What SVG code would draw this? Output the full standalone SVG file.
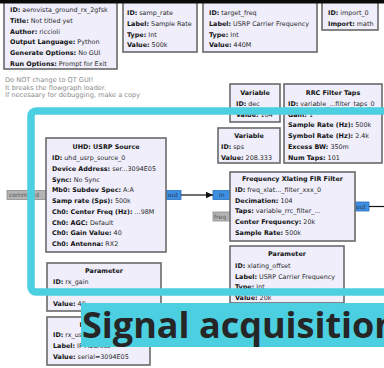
<svg xmlns="http://www.w3.org/2000/svg" width="384" height="368" viewBox="0 0 384 368">
  <defs>
    <style>
      .blk { fill: #efeefa; stroke: #6a6a6a; stroke-width: 1.6; }
      .t { font-family: "DejaVu Sans", sans-serif; font-size: 6.4px; fill: #2a2a2a; }
      .b { font-weight: bold; fill: #111; }
      .ttl { font-family: "DejaVu Sans", sans-serif; font-size: 6.4px; font-weight: bold; fill: #111; text-anchor: middle; }
      .cmt { font-family: "DejaVu Sans", sans-serif; font-size: 6.6px; fill: #8a8a8a; }
      .pblue { fill: #3d8fe3; stroke: #2a6fb8; stroke-width: 0.8; }
      .pgray { fill: #b4b4b4; stroke: #8c8c8c; stroke-width: 0.8; }
      .pt { font-family: "DejaVu Sans", sans-serif; font-size: 6px; fill: #2b3d55; }
      .pgt { font-family: "DejaVu Sans", sans-serif; font-size: 6px; fill: #555; }
      .wire { stroke: #111; stroke-width: 1.2; fill: none; }
      .accent { fill: #4ccfe0; }
    </style>
    <marker id="arrow" markerWidth="8" markerHeight="8" refX="7" refY="4" orient="auto" markerUnits="userSpaceOnUse">
      <path d="M0,0.8 L7,4 L0,7.2 Z" fill="#111"/>
    </marker>
  </defs>

  <rect width="384" height="368" fill="#ffffff"/>

  <!-- Options block -->
  <g id="options">
    <rect class="blk" x="4" y="-20" width="113" height="89"/>
    <text class="t" x="10" y="12.3"><tspan class="b">ID:</tspan> aerovista_ground_rx_2gfsk</text>
    <text class="t" x="10" y="23"><tspan class="b">Title:</tspan> Not titled yet</text>
    <text class="t" x="10" y="33.7"><tspan class="b">Author:</tspan> riccioli</text>
    <text class="t" x="10" y="44.4"><tspan class="b">Output Language:</tspan> Python</text>
    <text class="t" x="10" y="55.1"><tspan class="b">Generate Options:</tspan> No GUI</text>
    <text class="t" x="10" y="65.8"><tspan class="b">Run Options:</tspan> Prompt for Exit</text>
  </g>

  <!-- Comment note -->
  <g id="note">
    <text class="cmt" x="5" y="82.3">Do NOT change to QT GUI!</text>
    <text class="cmt" x="5" y="89.5">It breaks the flowgraph loader.</text>
    <text class="cmt" x="5" y="96.7">If necesaary for debugging, make a copy</text>
  </g>

  <!-- Variable: samp_rate -->
  <g id="samp_rate">
    <rect class="blk" x="123" y="-20" width="74" height="72"/>
    <text class="t" x="127" y="15.3"><tspan class="b">ID:</tspan> samp_rate</text>
    <text class="t" x="127" y="26"><tspan class="b">Label:</tspan> Sample Rate</text>
    <text class="t" x="127" y="36.7"><tspan class="b">Type:</tspan> Int</text>
    <text class="t" x="127" y="47.4"><tspan class="b">Value:</tspan> 500k</text>
  </g>

  <!-- Parameter: target_freq -->
  <g id="target_freq">
    <rect class="blk" x="203" y="-20" width="114" height="72"/>
    <text class="t" x="209" y="15.3"><tspan class="b">ID:</tspan> target_freq</text>
    <text class="t" x="209" y="26"><tspan class="b">Label:</tspan> USRP Carrier Frequency</text>
    <text class="t" x="209" y="36.7"><tspan class="b">Type:</tspan> Int</text>
    <text class="t" x="209" y="47.4"><tspan class="b">Value:</tspan> 440M</text>
  </g>

  <!-- Import -->
  <g id="import_0">
    <rect class="blk" x="322" y="-20" width="56" height="50"/>
    <text class="t" x="328" y="15"><tspan class="b">ID:</tspan> import_0</text>
    <text class="t" x="328" y="25.7"><tspan class="b">Import:</tspan> math</text>
  </g>

  <!-- Variable: dec -->
  <g id="dec">
    <rect class="blk" x="230" y="84" width="50" height="38"/>
    <text class="ttl" x="255" y="95.3">Variable</text>
    <text class="t" x="236" y="106"><tspan class="b">ID:</tspan> dec</text>
    <text class="t" x="236" y="116.7"><tspan class="b">Value:</tspan> 104</text>
  </g>

  <!-- RRC Filter Taps -->
  <g id="rrc_taps">
    <rect class="blk" x="284" y="84" width="98" height="79"/>
    <text class="ttl" x="333" y="95.3">RRC Filter Taps</text>
    <text class="t" x="288" y="106"><tspan class="b">ID:</tspan> variable_...filter_taps_0</text>
    <text class="t" x="288" y="116.7"><tspan class="b">Gain:</tspan> 1</text>
    <text class="t" x="288" y="127.4"><tspan class="b">Sample Rate (Hz):</tspan> 500k</text>
    <text class="t" x="288" y="138.1"><tspan class="b">Symbol Rate (Hz):</tspan> 2.4k</text>
    <text class="t" x="288" y="148.8"><tspan class="b">Excess BW:</tspan> 350m</text>
    <text class="t" x="288" y="159.5"><tspan class="b">Num Taps:</tspan> 101</text>
  </g>

  <!-- Variable: sps -->
  <g id="sps">
    <rect class="blk" x="218" y="128" width="62" height="35"/>
    <text class="ttl" x="249" y="138.3">Variable</text>
    <text class="t" x="221" y="149"><tspan class="b">ID:</tspan> sps</text>
    <text class="t" x="221" y="159.7"><tspan class="b">Value:</tspan> 208.333</text>
  </g>

  <!-- UHD: USRP Source -->
  <g id="usrp_source">
    <rect class="pgray" x="7" y="190.5" width="40" height="9"/>
    <text class="pgt" x="9" y="197.2">command</text>
    <rect class="pblue" x="165" y="190.5" width="16" height="9"/>
    <text class="pt" x="168" y="197.2">out</text>
    <rect class="blk" x="46" y="138" width="120" height="114"/>
    <text class="ttl" x="106" y="149.3">UHD: USRP Source</text>
    <text class="t" x="52" y="160"><tspan class="b">ID:</tspan> uhd_usrp_source_0</text>
    <text class="t" x="52" y="170.8"><tspan class="b">Device Address:</tspan> ser...3094E05</text>
    <text class="t" x="52" y="181.5"><tspan class="b">Sync:</tspan> No Sync</text>
    <text class="t" x="52" y="192.3"><tspan class="b">Mb0: Subdev Spec:</tspan> A:A</text>
    <text class="t" x="52" y="203"><tspan class="b">Samp rate (Sps):</tspan> 500k</text>
    <text class="t" x="52" y="213.8"><tspan class="b">Ch0: Center Freq (Hz):</tspan> ...98M</text>
    <text class="t" x="52" y="224.5"><tspan class="b">Ch0: AGC:</tspan> Default</text>
    <text class="t" x="52" y="235.3"><tspan class="b">Ch0: Gain Value:</tspan> 40</text>
    <text class="t" x="52" y="246"><tspan class="b">Ch0: Antenna:</tspan> RX2</text>
  </g>

  <!-- Frequency Xlating FIR Filter -->
  <g id="freq_xlating">
    <rect class="pblue" x="213" y="190.5" width="18" height="9"/>
    <text class="pt" x="219" y="197.2">in</text>
    <rect class="pgray" x="213" y="212" width="18" height="9"/>
    <text class="pgt" x="214" y="218.7">freq</text>
    <rect class="pblue" x="354" y="202" width="15" height="9"/>
    <text class="pt" x="356" y="208.7">out</text>
    <rect class="blk" x="230" y="172" width="125" height="69"/>
    <text class="ttl" x="292.5" y="181.3">Frequency Xlating FIR Filter</text>
    <text class="t" x="235" y="192"><tspan class="b">ID:</tspan> freq_xlat..._filter_xxx_0</text>
    <text class="t" x="235" y="202.7"><tspan class="b">Decimation:</tspan> 104</text>
    <text class="t" x="235" y="213.4"><tspan class="b">Taps:</tspan> variable_rrc_filter_...</text>
    <text class="t" x="235" y="224.1"><tspan class="b">Center Frequency:</tspan> 20k</text>
    <text class="t" x="235" y="234.8"><tspan class="b">Sample Rate:</tspan> 500k</text>
  </g>

  <!-- Parameter: xlating_offset -->
  <g id="xlating_offset">
    <rect class="blk" x="230" y="246" width="114" height="57"/>
    <text class="ttl" x="287" y="256.3">Parameter</text>
    <text class="t" x="235" y="268"><tspan class="b">ID:</tspan> xlating_offset</text>
    <text class="t" x="235" y="278.7"><tspan class="b">Label:</tspan> USRP Carrier Frequency</text>
    <text class="t" x="235" y="289.4"><tspan class="b">Type:</tspan> Int</text>
    <text class="t" x="235" y="300.1"><tspan class="b">Value:</tspan> 20k</text>
  </g>

  <!-- Parameter: rx_gain -->
  <g id="rx_gain">
    <rect class="blk" x="47" y="263" width="114" height="48"/>
    <text class="ttl" x="104" y="273.3">Parameter</text>
    <text class="t" x="53" y="284.3"><tspan class="b">ID:</tspan> rx_gain</text>
    <text class="t" x="53" y="305.5"><tspan class="b">Value:</tspan> 40</text>
  </g>

  <!-- Parameter: rx_usrp_address -->
  <g id="rx_usrp_address">
    <rect class="blk" x="47" y="317" width="103" height="48"/>
    <text class="ttl" x="98.5" y="326.5">Parameter</text>
    <text class="t" x="53" y="337.3"><tspan class="b">ID:</tspan> rx_usrp_address</text>
    <text class="t" x="53" y="348"><tspan class="b">Label:</tspan> IP Address</text>
    <text class="t" x="53" y="358.7"><tspan class="b">Value:</tspan> serial=3094E05</text>
  </g>

  <!-- Connections -->
  <g id="connections">
    <line class="wire" x1="181" y1="195" x2="213" y2="195" marker-end="url(#arrow)"/>
    <line class="wire" x1="369" y1="206.5" x2="384" y2="206.5"/>
  </g>

  <!-- Highlight frame and its caption -->
  <g id="highlight">
    <rect x="31" y="111" width="380" height="181" rx="5" fill="none" stroke="#4ccfe0" stroke-width="7.5"/>
    <rect class="accent" x="81" y="303" width="310" height="44"/>
    <text x="82" y="338" font-family="'Open Sans', sans-serif" font-weight="bold" font-size="36" fill="#262626">Signal acquisition</text>
  </g>

  <!-- Top edge band -->
  <rect x="0" y="0" width="384" height="3.5" fill="#0a0a0a"/>
</svg>
